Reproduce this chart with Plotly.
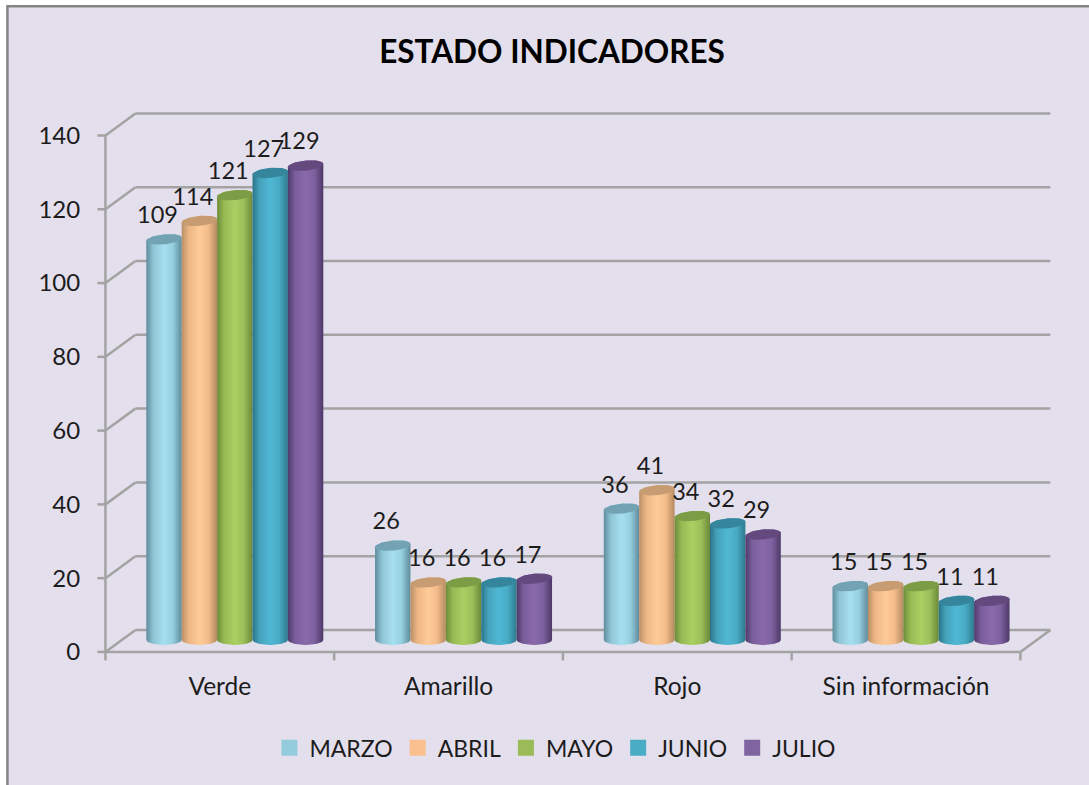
import numpy as np
import plotly.graph_objects as go

categories = ["Verde", "Amarillo", "Rojo", "Sin información"]
months = ["MARZO", "ABRIL", "MAYO", "JUNIO", "JULIO"]
marzo = [109, 26, 36, 15]
abril = [114, 16, 41, 15]
mayo = [121, 16, 34, 15]
junio = [127, 16, 32, 11]
julio = [129, 17, 29, 11]
series = [marzo, abril, mayo, junio, julio]
y_ticks = [0, 20, 40, 60, 80, 100, 120, 140]

legend_colors = ["#93CDDD", "#FAC090", "#9BBB59", "#4BACC6", "#8064A2"]
side_scales = [
    ["#5E8C9C", "#8FC6D6", "#A6DFF0", "#96CFE0", "#5F8B9A"],
    ["#B98F66", "#EDB684", "#FECB98", "#F3BC8A", "#B48A60"],
    ["#6C8C38", "#97BA55", "#AACF62", "#9CBF5A", "#6A8838"],
    ["#2A7489", "#45A3BC", "#50B8D4", "#48ABC5", "#2E7A8F"],
    ["#4E3A6A", "#7A5E9C", "#8A69AB", "#7D619F", "#4C3868"],
]
cap_colors = ["#73A3B3", "#C79C72", "#7C9C45", "#35869D", "#64497F"]

PX_X = 228.75          # pixels per category
PX_Y = 3.69            # pixels per value unit
X_MIN, X_MAX = -0.05, 4.16
Y_MIN, Y_MAX = -3.0, 148.0
LEFT_PX, ZERO_PX = 105.0, 652.0
DEPTH_X, DEPTH_Y = 30 / PX_X, 22 / PX_Y
BAR_W = 35.4 / PX_X
GROUP_SHIFT = 15 / PX_X
BASE_LOW = 12 / PX_Y
BASE_TOP = 10.5 / PX_Y
RY = 5 / PX_Y
TILT = 1.6 / PX_Y
LABEL_DX, LABEL_DY = -6.5 / PX_X, 22 / PX_Y

ml = LEFT_PX + X_MIN * PX_X
mr = 1089 - (LEFT_PX + X_MAX * PX_X)
mt = ZERO_PX - Y_MAX * PX_Y
mb = 785 - (ZERO_PX - Y_MIN * PX_Y)
paper_x = lambda px: (px - ml) / (1089 - ml - mr)
paper_y = lambda py: 1 - (py - mt) / (785 - mt - mb)

GRAY = "#A3A3A3"
TEXT = "#1C1C1C"
FONT = "Lato"

shapes = [dict(type="rect", xref="paper", yref="paper", layer="below",
               x0=paper_x(7), x1=paper_x(1095), y0=paper_y(6), y1=paper_y(795),
               fillcolor="#E4DFEC", line=dict(color="#848484", width=2.5))]


def seg(x0, y0, x1, y1):
    return dict(type="line", xref="x", yref="y", layer="below", x0=x0, y0=y0, x1=x1, y1=y1,
                line=dict(color=GRAY, width=2.5))


n = len(categories)
for v in y_ticks:
    shapes.append(seg(0, v, DEPTH_X, v + DEPTH_Y))
    shapes.append(seg(DEPTH_X, v + DEPTH_Y, n + DEPTH_X, v + DEPTH_Y))
    shapes.append(seg(-0.035, v, 0, v))
shapes.append(seg(0, 0, 0, y_ticks[-1]))
shapes.append(seg(0, 0, n, 0))
shapes.append(seg(n, 0, n + DEPTH_X, DEPTH_Y))
for i in range(n + 1):
    shapes.append(seg(i, 0, i, -2.3))

fig = go.Figure()
t_low = np.linspace(np.pi, 2 * np.pi, 30)
t_top = np.linspace(0, np.pi, 30)
t_full = np.linspace(0, 2 * np.pi, 60)
r = BAR_W / 2

for s, values in enumerate(series):
    scale = list(zip([0, 0.2, 0.5, 0.75, 1], side_scales[s]))
    for c, v in enumerate(values):
        cx = c + GROUP_SHIFT + 0.5 + (s - 2) * BAR_W
        top = BASE_TOP + v
        xs = np.concatenate([cx + r * np.cos(t_low), cx + r * np.cos(t_top)])
        ys = np.concatenate([BASE_LOW + RY * np.sin(t_low),
                             top + RY * np.sin(t_top) + TILT * np.cos(t_top)])
        fig.add_trace(go.Scatter(x=xs, y=ys, mode="lines", fill="toself", line=dict(width=0),
                                 fillgradient=dict(type="horizontal", colorscale=scale),
                                 hoverinfo="skip", showlegend=False))
        fig.add_trace(go.Scatter(x=cx + r * np.cos(t_full),
                                 y=top + RY * np.sin(t_full) + TILT * np.cos(t_full),
                                 mode="lines", fill="toself", line=dict(width=0),
                                 fillcolor=cap_colors[s], hoverinfo="skip", showlegend=False))

for s, values in enumerate(series):
    xs = [c + GROUP_SHIFT + 0.5 + (s - 2) * BAR_W + LABEL_DX for c in range(n)]
    ys = [BASE_TOP + v + LABEL_DY for v in values]
    fig.add_trace(go.Scatter(x=xs, y=ys, mode="text", text=[str(v) for v in values],
                             textposition="middle center", cliponaxis=False,
                             textfont=dict(family=FONT, size=23.5, color=TEXT),
                             hoverinfo="skip", showlegend=False))

for s, m in enumerate(months):
    fig.add_trace(go.Scatter(x=[None], y=[None], mode="markers", name=m,
                             marker=dict(symbol="square", size=16, color=legend_colors[s])))

fig.update_layout(
    width=1089, height=785,
    margin=dict(l=ml, r=mr, t=mt, b=mb, autoexpand=False),
    paper_bgcolor="#FFFFFF", plot_bgcolor="rgba(0,0,0,0)",
    shapes=shapes,
    font=dict(family=FONT, size=24, color=TEXT),
    title=dict(text="<b>ESTADO INDICADORES</b>", x=552 / 1089, xanchor="center",
               y=1 - 52 / 785, yanchor="middle", font=dict(family=FONT, size=31.5, color="#000000")),
    xaxis=dict(range=[X_MIN, X_MAX], tickmode="array",
               tickvals=[i + 0.5 for i in range(n)], ticktext=categories,
               ticks="outside", ticklen=2, tickcolor="rgba(0,0,0,0)", showgrid=False,
               zeroline=False, showline=False, tickfont=dict(family=FONT, size=24.5, color=TEXT)),
    yaxis=dict(range=[Y_MIN, Y_MAX], tickmode="array", tickvals=y_ticks,
               ticktext=[str(v) for v in y_ticks],
               ticks="outside", ticklen=8, tickcolor="rgba(0,0,0,0)", showgrid=False,
               zeroline=False, showline=False, tickfont=dict(family=FONT, size=24, color=TEXT)),
    legend=dict(orientation="h", x=paper_x(555), xanchor="center", y=paper_y(748), yanchor="middle",
                font=dict(family=FONT, size=23, color=TEXT), bgcolor="rgba(0,0,0,0)"),
)

fig.write_html("out.html", config=dict(displayModeBar=False),
               post_script="document.body.style.margin='0';window.dispatchEvent(new Event('resize'));")
